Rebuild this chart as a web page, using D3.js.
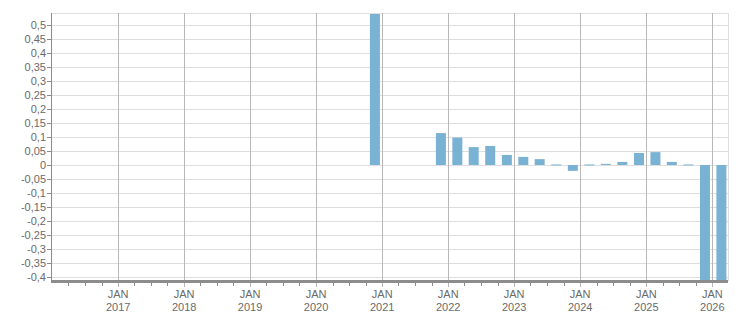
<!DOCTYPE html>
<html><head><meta charset="utf-8">
<script src="https://cdn.jsdelivr.net/npm/d3@7"></script>
<style>
html,body{margin:0;padding:0;background:#fff;}
svg{display:block;}
text{font-family:"Liberation Sans",Arial,sans-serif;font-size:11px;fill:#6a6a6a;}
</style></head>
<body>
<svg id="c" width="751" height="313"></svg>
<script>
const quarters = ["2020-Q4","2021-Q4","2022-Q1","2022-Q2","2022-Q3","2022-Q4","2023-Q1","2023-Q2","2023-Q3","2023-Q4","2024-Q1","2024-Q2","2024-Q3","2024-Q4","2025-Q1","2025-Q2","2025-Q3","2025-Q4","2026-Q1"];
const values   = [0.6, 0.114, 0.098, 0.064, 0.068, 0.036, 0.029, 0.021, 0.002, -0.021, 0.002, 0.004, 0.011, 0.043, 0.046, 0.011, 0.002, -0.45, -0.45];
const yTickValues = [0.5,0.45,0.4,0.35,0.3,0.25,0.2,0.15,0.1,0.05,0,-0.05,-0.1,-0.15,-0.2,-0.25,-0.3,-0.35,-0.4];
const yTickLabels = ["0,5","0,45","0,4","0,35","0,3","0,25","0,2","0,15","0,1","0,05","0","-0,05","-0,1","-0,15","-0,2","-0,25","-0,3","-0,35","-0,4"];
const xYears = [2017,2018,2019,2020,2021,2022,2023,2024,2025,2026];
const xMonthLabel = "JAN";

const svg = d3.select("#c");
const L = 52, R = 728, T = 13, B = 281;
const x = d3.scaleTime().domain([new Date(2016,0,1), new Date(2026,2,29)]).range([L, R]);
const y = d3.scaleLinear().domain([-0.4143, 0.5429]).range([B, T]);

// horizontal grid
svg.append("g").selectAll("line").data(yTickValues).join("line")
  .attr("x1", L).attr("x2", R)
  .attr("y1", d => Math.round(y(d)) + 0.5).attr("y2", d => Math.round(y(d)) + 0.5)
  .attr("stroke", "#dedede").attr("stroke-width", 1);
// top & right border
svg.append("line").attr("x1", L).attr("x2", R).attr("y1", T + 0.5).attr("y2", T + 0.5).attr("stroke", "#dedede");
svg.append("line").attr("x1", R + 0.5).attr("x2", R + 0.5).attr("y1", T).attr("y2", B).attr("stroke", "#dedede");

// vertical major grid
const yearDates = xYears.map(yr => new Date(yr, 0, 1));
svg.append("g").selectAll("line").data(yearDates).join("line")
  .attr("x1", d => Math.round(x(d)) + 0.5).attr("x2", d => Math.round(x(d)) + 0.5)
  .attr("y1", T).attr("y2", B + 6)
  .attr("stroke", "#b8b8b8").attr("stroke-width", 1);

// bars
svg.append("defs").append("clipPath").attr("id", "clip")
  .append("rect").attr("x", L).attr("y", T + 1).attr("width", R - L).attr("height", B - T - 2);
const parseQ = q => { const [yr, qq] = q.split("-Q"); return new Date(+yr, (+qq - 1) * 3, 1); };
const addQ = d => new Date(d.getFullYear(), d.getMonth() + 3, 1);
const bars = quarters.map((q, i) => ({ start: parseQ(q), v: values[i] }));
svg.append("g").attr("clip-path", "url(#clip)").selectAll("rect").data(bars).join("rect")
  .attr("x", d => { const a = x(d.start), b = x(addQ(d.start)); return a + (b - a - 10) / 2 + 1; })
  .attr("width", 10)
  .attr("y", d => Math.min(y(d.v), y(0)))
  .attr("height", d => Math.max(1, Math.abs(y(d.v) - y(0))))
  .attr("fill", "#7ab2d4");

// left axis
svg.append("line").attr("x1", L - 0.5).attr("x2", L - 0.5).attr("y1", T).attr("y2", B).attr("stroke", "#8c8c8c");
const yt = svg.append("g");
yt.selectAll("line").data(yTickValues).join("line")
  .attr("x1", L - 5).attr("x2", L)
  .attr("y1", d => Math.round(y(d)) + 0.5).attr("y2", d => Math.round(y(d)) + 0.5)
  .attr("stroke", "#8c8c8c");
yt.selectAll("text").data(yTickValues).join("text")
  .attr("x", L - 6).attr("y", d => y(d)).attr("dy", "0.35em")
  .attr("text-anchor", "end").text((d, i) => yTickLabels[i]);

// bottom axis
svg.append("rect").attr("x", L - 1).attr("y", B - 1).attr("width", R - L + 1).attr("height", 3).attr("fill", "#8c8c8c");
const quarterTicks = d3.timeMonth.every(3).range(new Date(2016,3,1), new Date(2026,2,29));
svg.append("g").selectAll("line").data(quarterTicks.filter(d => d.getMonth() !== 0)).join("line")
  .attr("x1", d => Math.round(x(d)) + 0.5).attr("x2", d => Math.round(x(d)) + 0.5)
  .attr("y1", B + 1).attr("y2", B + 5).attr("stroke", "#8c8c8c");
const xl = svg.append("g").selectAll("g").data(xYears).join("g")
  .attr("transform", (d, i) => `translate(${x(yearDates[i])},0)`);
xl.append("text").attr("y", 298).attr("text-anchor", "middle").text(xMonthLabel);
xl.append("text").attr("y", 311).attr("text-anchor", "middle").text(d => d);
</script>
</body></html>
